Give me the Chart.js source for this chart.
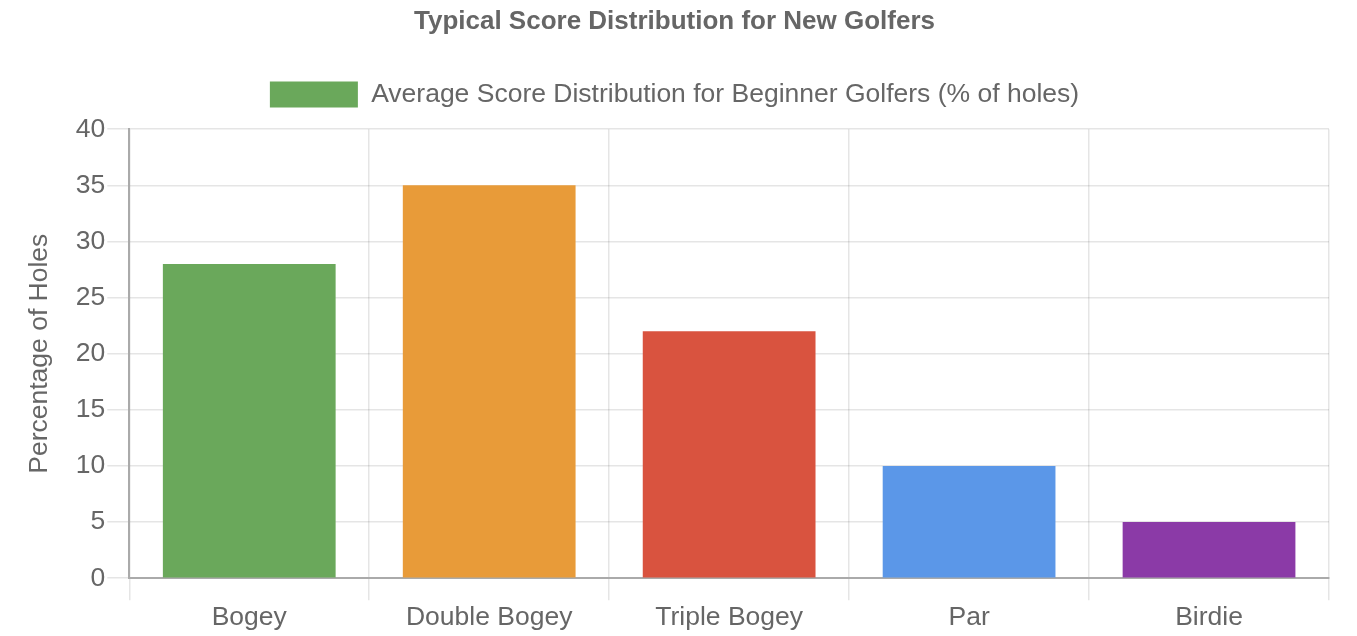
<!DOCTYPE html>
<html>
<head>
<meta charset="utf-8">
<script src="https://cdn.jsdelivr.net/npm/chart.js@4"></script>
<style>
  html, body { margin: 0; padding: 0; background: #fff; }
  #wrap { width: 1357px; height: 636px; }
</style>
</head>
<body>
<div id="wrap"><canvas id="scoreChart"></canvas></div>
<script>
// Score categories and share of holes (%)
const categories = ['Bogey', 'Double Bogey', 'Triple Bogey', 'Par', 'Birdie'];
const percentages = [28, 35, 22, 10, 5];
const barColors = ['#6aa85b', '#e89b39', '#d9533f', '#5b97e8', '#8b3aa7'];
const yTicks = [0, 5, 10, 15, 20, 25, 30, 35, 40];

Chart.defaults.font.family = '"Liberation Sans", Arial, sans-serif';
Chart.defaults.color = '#666';

// Adds extra space between the legend and the plot area
const legendGap = {
    id: 'legendGap',
    beforeLayout(chart) {
        const legend = chart.legend;
        if (!legend || legend._gapPatched) return;
        const origFit = legend.fit;
        legend.fit = function () {
            origFit.call(this);
            this.height += 11.5;
        };
        legend._gapPatched = true;
    }
};

const ctx = document.getElementById('scoreChart').getContext('2d');
const scoreChart = new Chart(ctx, {
    type: 'bar',
    data: {
        labels: categories,
        datasets: [{
            label: 'Average Score Distribution for Beginner Golfers (% of holes)',
            data: percentages,
            backgroundColor: barColors,
            borderWidth: 0
        }]
    },
    options: {
        responsive: true,
        maintainAspectRatio: false,
        animation: false,
        layout: { padding: { left: 20, right: 28, top: 4, bottom: 0 } },
        plugins: {
            title: {
                display: true,
                text: 'Typical Score Distribution for New Golfers',
                font: { size: 26, weight: 'bold' },
                padding: { top: 2, bottom: 24 }
            },
            legend: {
                display: true,
                position: 'top',
                labels: {
                    font: { size: 26.5 },
                    boxWidth: 88,
                    boxHeight: 26,
                    padding: 20
                }
            },
            tooltip: { enabled: false }
        },
        scales: {
            y: {
                min: yTicks[0],
                max: yTicks[yTicks.length - 1],
                ticks: { stepSize: 5, font: { size: 26.5 }, padding: 2 },
                grid: { tickLength: 22, lineWidth: 1.5 },
                title: {
                    display: true,
                    text: 'Percentage of Holes',
                    font: { size: 26.5 },
                    padding: { top: 4, bottom: 18 }
                },
                border: { color: '#aaa', width: 2 }
            },
            x: {
                ticks: { font: { size: 26.5 }, padding: 2 },
                grid: { tickLength: 22, lineWidth: 1.5 },
                border: { color: '#aaa', width: 2 }
            }
        }
    },
    plugins: [legendGap]
});
</script>
</body>
</html>
